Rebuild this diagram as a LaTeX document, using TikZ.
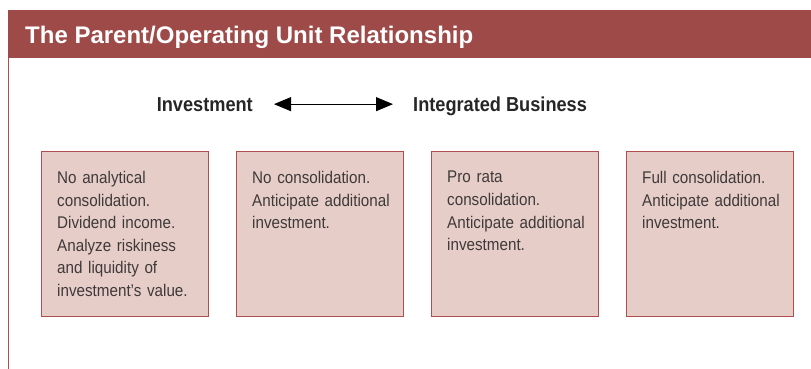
\documentclass[tikz,border=0pt]{standalone}
\usepackage{fontspec}
\setmainfont{Liberation Sans}[FakeStretch=0.9]
\newfontfamily\titlefont{Liberation Sans}
\usetikzlibrary{arrows.meta}
\definecolor{barred}{HTML}{9E4A48}
\definecolor{boxfill}{HTML}{E7CDC8}
\definecolor{boxline}{HTML}{B04E4E}
\definecolor{bodytext}{HTML}{3E3A3A}
\tikzset{
  casebox/.style={draw=boxline, line width=1.2pt, fill=boxfill, minimum width=167pt, minimum height=165pt, inner sep=0pt, anchor=north west},
  casetext/.style={anchor=north west, text width=155pt, align=left, inner sep=0pt, text=bodytext, font=\fontsize{16.9}{22.6}\selectfont},
  ends/.style={font=\fontsize{20.2}{22}\bfseries\selectfont, text=black!85, inner sep=0pt}
}
\begin{document}
\begin{tikzpicture}[x=1pt, y=-1pt]
  \useasboundingbox (0,0) rectangle (811,369);
  % title bar
  \fill [barred] (8,10) rectangle (811,58);
  \draw [boxline, line width=0.8pt] (8,58) -- (8,369);
  \node [anchor=base west, inner sep=0pt, text=white, font=\titlefont\fontsize{24}{26}\bfseries\selectfont] (title) at (25,44) {The Parent/Operating Unit Relationship};

  % spectrum
  \node [ends, anchor=base east] (inv) at (253,111) {Investment};
  \node [ends, anchor=base west] (integ) at (413,111) {Integrated Business};
  \draw [{Triangle[length=17pt,width=14pt]}-{Triangle[length=17pt,width=14pt]}, line width=1pt] ([xshift=21pt]inv.east) -- ([xshift=-20pt]integ.west |- inv.east);

  % the four cases
  \node [casebox] (c1) at (41,151) {};
  \node [casebox] (c2) at (236,151) {};
  \node [casebox] (c3) at (431,151) {};
  \node [casebox] (c4) at (626,151) {};

  \node [casetext] (t1) at ([xshift=16pt,yshift=-20pt]c1.north west) {No analytical\\consolidation.\\Dividend income.\\Analyze riskiness\\and liquidity of\\investment’s value.};
  \node [casetext] (t2) at ([xshift=16pt,yshift=-20pt]c2.north west) {No consolidation.\\Anticipate additional\\investment.};
  \node [casetext] (t3) at ([xshift=16pt,yshift=-20pt]c3.north west) {Pro rata\\consolidation.\\Anticipate additional\\investment.};
  \node [casetext] (t4) at ([xshift=16pt,yshift=-20pt]c4.north west) {Full consolidation.\\Anticipate additional\\investment.};
\end{tikzpicture}
\end{document}
